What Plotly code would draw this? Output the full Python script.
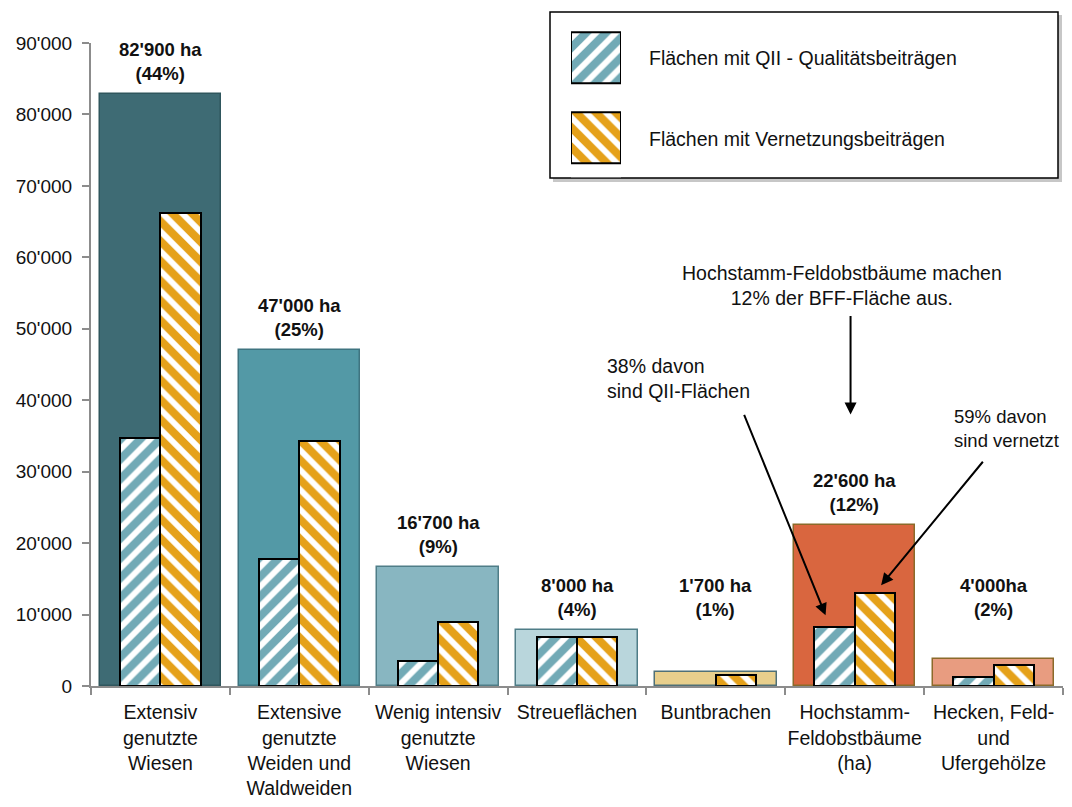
import plotly.graph_objects as go

# ---------------- data ----------------
categories = [
    "Extensiv<br>genutzte<br>Wiesen",
    "Extensive<br>genutzte<br>Weiden und<br>Waldweiden",
    "Wenig intensiv<br>genutzte<br>Wiesen",
    "Streueflächen",
    "Buntbrachen",
    "Hochstamm-<br>Feldobstbäume<br>(ha)",
    "Hecken, Feld-<br>und<br>Ufergehölze",
]
total_area = [82900, 47000, 16600, 7800, 2000, 22500, 3800]
qii_area = [34700, 17800, 3500, 6800, None, 8300, 1300]
vernetzung_area = [66200, 34300, 9000, 6800, 1500, 13000, 2900]
total_labels = [
    "82'900 ha<br>(44%)", "47'000 ha<br>(25%)", "16'700 ha<br>(9%)",
    "8'000 ha<br>(4%)", "1'700 ha<br>(1%)", "22'600 ha<br>(12%)", "4'000ha<br>(2%)",
]
series_names = ["Flächen mit QII - Qualitätsbeiträgen", "Flächen mit Vernetzungsbeiträgen"]
y_tick_values = [0, 10000, 20000, 30000, 40000, 50000, 60000, 70000, 80000, 90000]
y_tick_labels = ["0", "10'000", "20'000", "30'000", "40'000", "50'000",
                 "60'000", "70'000", "80'000", "90'000"]

# ---------------- styles ----------------
total_colors = ["#3e6b74", "#5399a6", "#88b6c1", "#b9d6dc", "#e8cf8c", "#d9663f", "#e89c80"]
total_line_colors = ["#2f565d", "#3f7480", "#4f7d87", "#4f7d87", "#4f7077", "#8b6a2a", "#8b6a2a"]
QII_COLOR = "#72aab6"
VERN_COLOR = "#e5a11a"
FONT = "Liberation Sans, Arial, sans-serif"
TXT = "#111111"

# page body has an 8px default margin -> figure is placed at (8, 8)
OFF = 8
W, H = 1056, 797
ML, MR, MT, MB = 83, 1, 2, 119
PW, PH = W - ML - MR, H - MT - MB
PLOT_BOTTOM_PAGE = OFF + H - MB  # 686 in page pixels


def px_x(page_x):
    return (page_x - OFF - ML) / PW


def px_y(page_y):
    return (PLOT_BOTTOM_PAGE - page_y) / PH


def hatch(color, shape):
    return dict(color=color,
                pattern=dict(shape=shape, fgcolor="white", bgcolor=color, fgopacity=1,
                             fillmode="overlay", size=14, solidity=0.42),
                line=dict(color="black", width=2))


fig = go.Figure()

fig.add_trace(go.Bar(
    x=categories, y=total_area, width=0.875,
    marker=dict(color=total_colors, line=dict(color=total_line_colors, width=1.5)),
    showlegend=False, hoverinfo="skip",
))
fig.add_trace(go.Bar(
    x=categories, y=qii_area, width=0.29, offset=-0.29,
    marker=hatch(QII_COLOR, "/"), name=series_names[0], showlegend=False,
))
fig.add_trace(go.Bar(
    x=categories, y=vernetzung_area, width=0.29, offset=0.0,
    marker=hatch(VERN_COLOR, "\\"), name=series_names[1], showlegend=False,
))

# legend swatches (mini subplot)
fig.add_trace(go.Bar(
    y=[series_names[0]], x=[1], orientation="h", width=0.64,
    marker=hatch(QII_COLOR, "/"), xaxis="x2", yaxis="y2", showlegend=False, hoverinfo="skip",
))
fig.add_trace(go.Bar(
    y=[series_names[1]], x=[1], orientation="h", width=0.64,
    marker=hatch(VERN_COLOR, "\\"), xaxis="x2", yaxis="y2", showlegend=False, hoverinfo="skip",
))

annotations = []
for cat, tot, lab in zip(categories, total_area, total_labels):
    annotations.append(dict(
        x=cat, y=max(tot, 7800), xref="x", yref="y", text=lab, showarrow=False,
        yanchor="bottom", yshift=8,
        font=dict(family=FONT, size=18.5, color=TXT, weight="bold"),
    ))

note_font = dict(family=FONT, size=19.5, color=TXT)
annotations += [
    dict(x=4.91, y=56000, xref="x", yref="y", showarrow=False,
         text="Hochstamm-Feldobstbäume machen<br>12% der BFF-Fläche aus.", font=note_font),
    dict(x=3.2, y=43100, xref="x", yref="y", showarrow=False, xanchor="left", align="left",
         text="38% davon<br>sind QII-Flächen", font=note_font),
    dict(x=5.70, y=36100, xref="x", yref="y", showarrow=False, xanchor="left", align="left",
         text="59% davon<br>sind vernetzt", font=dict(family=FONT, size=18.5, color=TXT)),
    dict(x=4.97, y=38000, xref="x", yref="y", text="", showarrow=True,
         ax=0, ay=-100, arrowhead=2, arrowsize=1.2, arrowwidth=2, arrowcolor="black"),
    dict(x=4.79, y=9900, xref="x", yref="y", text="", showarrow=True,
         ax=-82, ay=-202, arrowhead=2, arrowsize=1.2, arrowwidth=2, arrowcolor="black"),
    dict(x=5.19, y=14100, xref="x", yref="y", text="", showarrow=True,
         ax=103, ay=-125, arrowhead=2, arrowsize=1.2, arrowwidth=2, arrowcolor="black"),
]

leg_font = dict(family=FONT, size=19.5, color=TXT)
annotations += [
    dict(x=px_x(647), y=px_y(58), xref="paper", yref="paper", xanchor="left",
         yanchor="middle", showarrow=False, text=series_names[0], font=leg_font),
    dict(x=px_x(647), y=px_y(139), xref="paper", yref="paper", xanchor="left",
         yanchor="middle", showarrow=False, text=series_names[1], font=leg_font),
]

shapes = [
    dict(type="rect", xref="paper", yref="paper", layer="below",
         x0=px_x(553), x1=px_x(1062), y0=px_y(182), y1=px_y(15),
         fillcolor="rgba(0,0,0,0.22)", line=dict(width=0)),
    dict(type="rect", xref="paper", yref="paper", layer="below",
         x0=px_x(550), x1=px_x(1058), y0=px_y(178), y1=px_y(12),
         fillcolor="white", line=dict(color="black", width=1.5)),
]

fig.update_layout(
    width=W, height=H,
    margin=dict(l=ML, r=MR, t=MT, b=MB, autoexpand=False),
    barmode="overlay",
    bargap=0,
    plot_bgcolor="white", paper_bgcolor="white",
    font=dict(family=FONT, size=18, color=TXT),
    annotations=annotations,
    shapes=shapes,
    xaxis=dict(
        type="category", tickson="boundaries", ticks="outside", ticklen=7,
        tickcolor="#8c8c8c", tickwidth=1.5, showline=True, linecolor="#8c8c8c",
        linewidth=2, showgrid=False, range=[-0.5, 6.5], automargin=False,
        tickangle=0, ticklabelstandoff=8,
        tickfont=dict(family=FONT, size=19.5, color=TXT),
    ),
    yaxis=dict(
        domain=[0, px_y(43)], range=[0, 90000],
        tickvals=y_tick_values, ticktext=y_tick_labels,
        ticks="outside", ticklen=7, tickcolor="#8c8c8c", tickwidth=1.5,
        showline=True, linecolor="#8c8c8c", linewidth=2, showgrid=False,
        zeroline=False, ticklabelstandoff=6, automargin=False,
        tickfont=dict(family=FONT, size=19, color=TXT),
    ),
    xaxis2=dict(domain=[px_x(571), px_x(621)], range=[0, 1], visible=False,
                anchor="y2", fixedrange=True),
    yaxis2=dict(domain=[px_y(177.25), px_y(18.25)], range=[1.5, -0.5], visible=False,
                anchor="x2", type="category", fixedrange=True),
)

fig.write_html("out.html")
